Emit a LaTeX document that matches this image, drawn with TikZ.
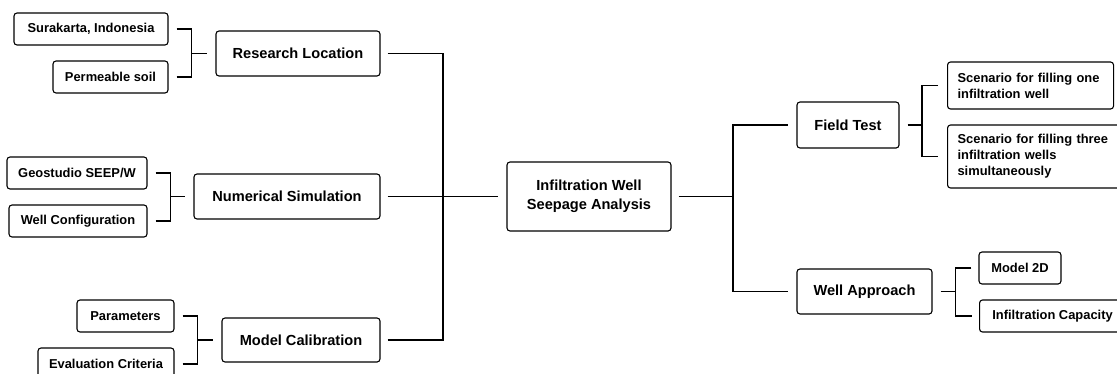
\documentclass[tikz,border=0pt]{standalone}
\usepackage{fontspec}
\setmainfont{Liberation Sans}
\begin{document}
\begin{tikzpicture}[x=1pt, y=-1pt,
  box/.style={draw, rounded corners=3pt, line width=1.1pt, inner sep=0pt, minimum height=32pt, font=\bfseries\fontsize{12.9}{16}\selectfont},
  bigbox/.style={box, minimum height=45pt, font=\bfseries\fontsize{14.6}{18.5}\selectfont},
  textbox/.style={box, anchor=west, align=left, inner xsep=10pt},
  link/.style={line width=1.1pt}]
\useasboundingbox (0,0) rectangle (1117,373);
\clip (0,0) rectangle (1117,373);

\node[box, minimum width=154pt] (srk) at (91,29) {Surakarta, Indonesia};
\node[box, minimum width=115pt] (perm) at (110.5,77) {Permeable soil};
\node[bigbox, minimum width=164pt] (resloc) at (298,53.5) {Research Location};

\node[box, minimum width=140pt] (geo) at (77,173) {Geostudio SEEP/W};
\node[box, minimum width=138pt] (wellconf) at (78,221) {Well Configuration};
\node[bigbox, minimum width=186pt] (numsim) at (287,196.5) {Numerical Simulation};

\node[box, minimum width=97pt] (param) at (125.5,316) {Parameters};
\node[box, minimum width=136pt] (evalcrit) at (106,364) {Evaluation Criteria};
\node[bigbox, minimum width=158pt, minimum height=44pt] (modcal) at (301,340) {Model Calibration};

\node[bigbox, minimum width=164pt, minimum height=69pt, align=center] (well) at (589,196.5) {Infiltration Well\\Seepage Analysis};

\node[bigbox, minimum width=102pt, minimum height=46pt] (field) at (848,125) {Field Test};
\node[textbox, text width=146pt, minimum height=47pt] (scenone) at (947,85.5) {Scenario for filling one\\infiltration well};
\node[textbox, text width=154pt, minimum height=63pt] (scenthree) at (947,156.5) {Scenario for filling three\\infiltration wells\\simultaneously};

\node[bigbox, minimum width=135pt] (approach) at (864.5,291.5) {Well Approach};
\node[box, minimum width=82pt] (model) at (1020,268) {Model 2D};
\node[box, anchor=west, minimum width=146pt] (infcap) at (979,316) {Infiltration Capacity};

\coordinate (jl) at (443,196.5);
\coordinate (jr) at (733,196.5);

\draw[link] ([xshift=8pt]srk.east) -| ([xshift=-24pt]resloc.west) -- ([xshift=-8pt]resloc.west);
\draw[link] ([xshift=8pt]perm.east) -| ([xshift=-24pt]resloc.west);
\draw[link] ([xshift=8pt]geo.east) -| ([xshift=-23pt]numsim.west) -- ([xshift=-8pt]numsim.west);
\draw[link] ([xshift=8pt]wellconf.east) -| ([xshift=-23pt]numsim.west);
\draw[link] ([xshift=8pt]param.east) -| ([xshift=-24pt]modcal.west) -- ([xshift=-8pt]modcal.west);
\draw[link] ([xshift=8pt]evalcrit.east) -| ([xshift=-24pt]modcal.west);

\draw[link] ([xshift=7pt]resloc.east) -| (jl);
\draw[link] ([xshift=7pt]modcal.east) -| (jl);
\draw[link] ([xshift=7pt]numsim.east) -- ([xshift=-8pt]well.west);

\draw[link] ([xshift=7pt]well.east) -- (jr);
\draw[link] (jr) |- ([xshift=-8pt]field.west);
\draw[link] (jr) |- ([xshift=-8pt]approach.west);

\draw[link] ([xshift=8pt]field.east) -- ([xshift=-25pt]scenone.west |- field.east);
\draw[link] ([xshift=-9pt]scenone.west) -| ([xshift=-25pt]scenone.west |- field.east) |- ([xshift=-9pt]scenthree.west);

\draw[link] ([xshift=8pt]approach.east) -- ([xshift=-23pt]model.west |- approach.east);
\draw[link] ([xshift=-7pt]model.west) -| ([xshift=-23pt]model.west |- approach.east) |- ([xshift=-7pt]infcap.west);
\end{tikzpicture}
\end{document}
